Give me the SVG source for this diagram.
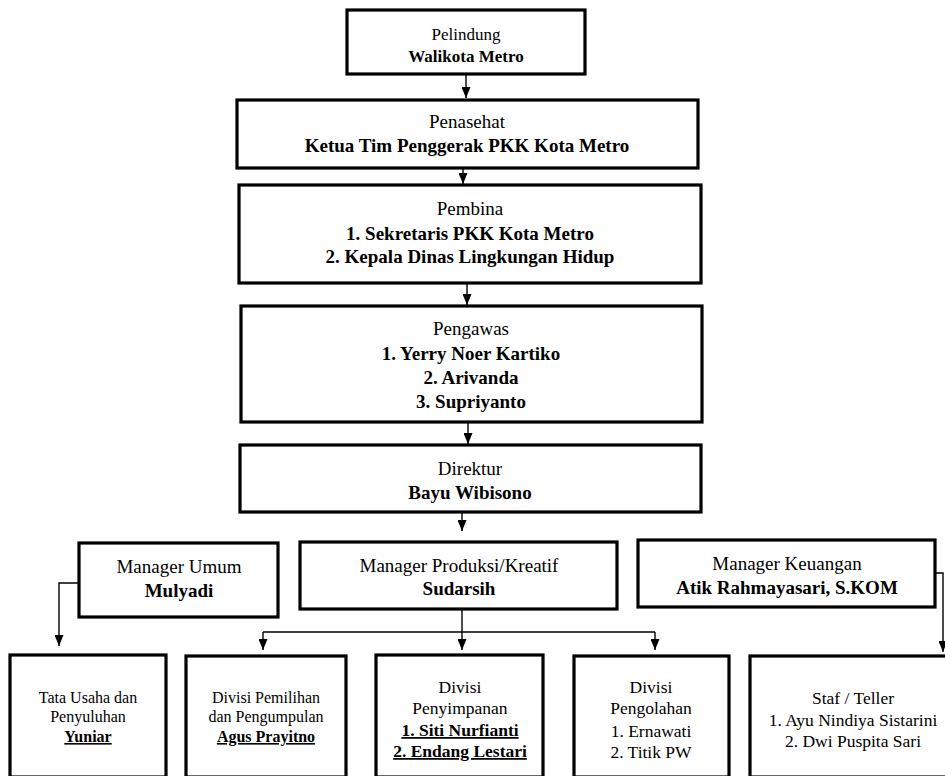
<svg xmlns="http://www.w3.org/2000/svg" width="945" height="776" viewBox="0 0 945 776">
<style>
.box{fill:#fff;stroke:#000;stroke-width:3.2}
text{font-family:"Liberation Serif","Times New Roman","DejaVu Serif",serif;fill:#000;text-anchor:middle}
.b{font-weight:bold}
.u{text-decoration:underline}
.l{fill:none;stroke:#000;stroke-width:1.4}
</style>
<defs>
<marker id="ah" markerWidth="11" markerHeight="9" refX="11" refY="4.5" orient="auto" markerUnits="userSpaceOnUse" viewBox="0 0 11 9">
<path d="M0,0 L11,4.5 L0,9 Z" fill="#000"/>
</marker>
</defs>
<rect width="945" height="776" fill="#fff"/>
<g id="connectors">
<line class="l" x1="466" y1="74" x2="466" y2="98" marker-end="url(#ah)"/>
<line class="l" x1="463" y1="168" x2="463" y2="184" marker-end="url(#ah)"/>
<line class="l" x1="467" y1="283" x2="467" y2="305" marker-end="url(#ah)"/>
<line class="l" x1="468" y1="422" x2="468" y2="444" marker-end="url(#ah)"/>
<line class="l" x1="462" y1="512" x2="462" y2="531" marker-end="url(#ah)"/>
<polyline class="l" points="79,583 59,583 59,646" marker-end="url(#ah)"/>
<line class="l" x1="462" y1="609" x2="462" y2="650" marker-end="url(#ah)"/>
<line class="l" x1="263" y1="632" x2="655" y2="632"/>
<line class="l" x1="263" y1="632" x2="263" y2="650" marker-end="url(#ah)"/>
<line class="l" x1="655" y1="632" x2="655" y2="650" marker-end="url(#ah)"/>
<polyline class="l" points="935,573 943,573 943,652" marker-end="url(#ah)"/>
</g>
<g id="pelindung">
<rect class="box" x="347" y="10" width="238" height="64"/>
<text x="466" y="40" font-size="17">Pelindung</text>
<text x="466" y="62" font-size="17" class="b">Walikota Metro</text>
</g>
<g id="penasehat">
<rect class="box" x="237" y="100" width="461" height="68"/>
<text x="467" y="128" font-size="19">Penasehat</text>
<text x="467" y="152" font-size="19" class="b">Ketua Tim Penggerak PKK Kota Metro</text>
</g>
<g id="pembina">
<rect class="box" x="239" y="185" width="462" height="98"/>
<text x="470" y="215" font-size="19">Pembina</text>
<text x="470" y="240" font-size="19" class="b">1. Sekretaris PKK Kota Metro</text>
<text x="470" y="263" font-size="19" class="b">2. Kepala Dinas Lingkungan Hidup</text>
</g>
<g id="pengawas">
<rect class="box" x="241" y="306" width="461" height="116"/>
<text x="471" y="335" font-size="19">Pengawas</text>
<text x="471" y="360" font-size="19" class="b">1. Yerry Noer Kartiko</text>
<text x="471" y="384" font-size="19" class="b">2. Arivanda</text>
<text x="471" y="408" font-size="19" class="b">3. Supriyanto</text>
</g>
<g id="direktur">
<rect class="box" x="240" y="445" width="461" height="67"/>
<text x="470" y="475" font-size="19">Direktur</text>
<text x="470" y="499" font-size="19" class="b">Bayu Wibisono</text>
</g>
<g id="manager-umum">
<rect class="box" x="79" y="543" width="199" height="74"/>
<text x="179" y="573" font-size="19">Manager Umum</text>
<text x="179" y="597" font-size="19" class="b">Mulyadi</text>
</g>
<g id="manager-produksi">
<rect class="box" x="300" y="542" width="317" height="67"/>
<text x="459" y="572" font-size="19">Manager Produksi/Kreatif</text>
<text x="459" y="595" font-size="19" class="b">Sudarsih</text>
</g>
<g id="manager-keuangan">
<rect class="box" x="638" y="540" width="297" height="67"/>
<text x="787" y="570" font-size="19">Manager Keuangan</text>
<text x="787" y="594" font-size="19" class="b">Atik Rahmayasari, S.KOM</text>
</g>
<g id="tata-usaha">
<rect class="box" x="10" y="655" width="156" height="122"/>
<text x="88" y="703" font-size="16">Tata Usaha dan</text>
<text x="88" y="722" font-size="16">Penyuluhan</text>
<text x="88" y="742" font-size="16" class="b u">Yuniar</text>
</g>
<g id="divisi-pemilihan">
<rect class="box" x="186" y="656" width="160" height="121"/>
<text x="266" y="703" font-size="16">Divisi Pemilihan</text>
<text x="266" y="722" font-size="16">dan Pengumpulan</text>
<text x="266" y="742" font-size="16" class="b u">Agus Prayitno</text>
</g>
<g id="divisi-penyimpanan">
<rect class="box" x="376" y="655" width="167" height="122"/>
<text x="460" y="693" font-size="17.5">Divisi</text>
<text x="460" y="714" font-size="17.5">Penyimpanan</text>
<text x="460" y="736" font-size="17.5" class="b u">1. Siti Nurfianti</text>
<text x="460" y="757" font-size="17.5" class="b u">2. Endang Lestari</text>
</g>
<g id="divisi-pengolahan">
<rect class="box" x="574" y="656" width="155" height="121"/>
<text x="651" y="693" font-size="17.5">Divisi</text>
<text x="651" y="714" font-size="17.5">Pengolahan</text>
<text x="651" y="737" font-size="17.5">1. Ernawati</text>
<text x="651" y="758" font-size="17.5">2. Titik PW</text>
</g>
<g id="staf-teller">
<rect class="box" x="750" y="656" width="200" height="121"/>
<text x="853" y="704" font-size="17.5">Staf / Teller</text>
<text x="853" y="726" font-size="17.5">1. Ayu Nindiya Sistarini</text>
<text x="853" y="747" font-size="17.5">2. Dwi Puspita Sari</text>
</g>
</svg>
